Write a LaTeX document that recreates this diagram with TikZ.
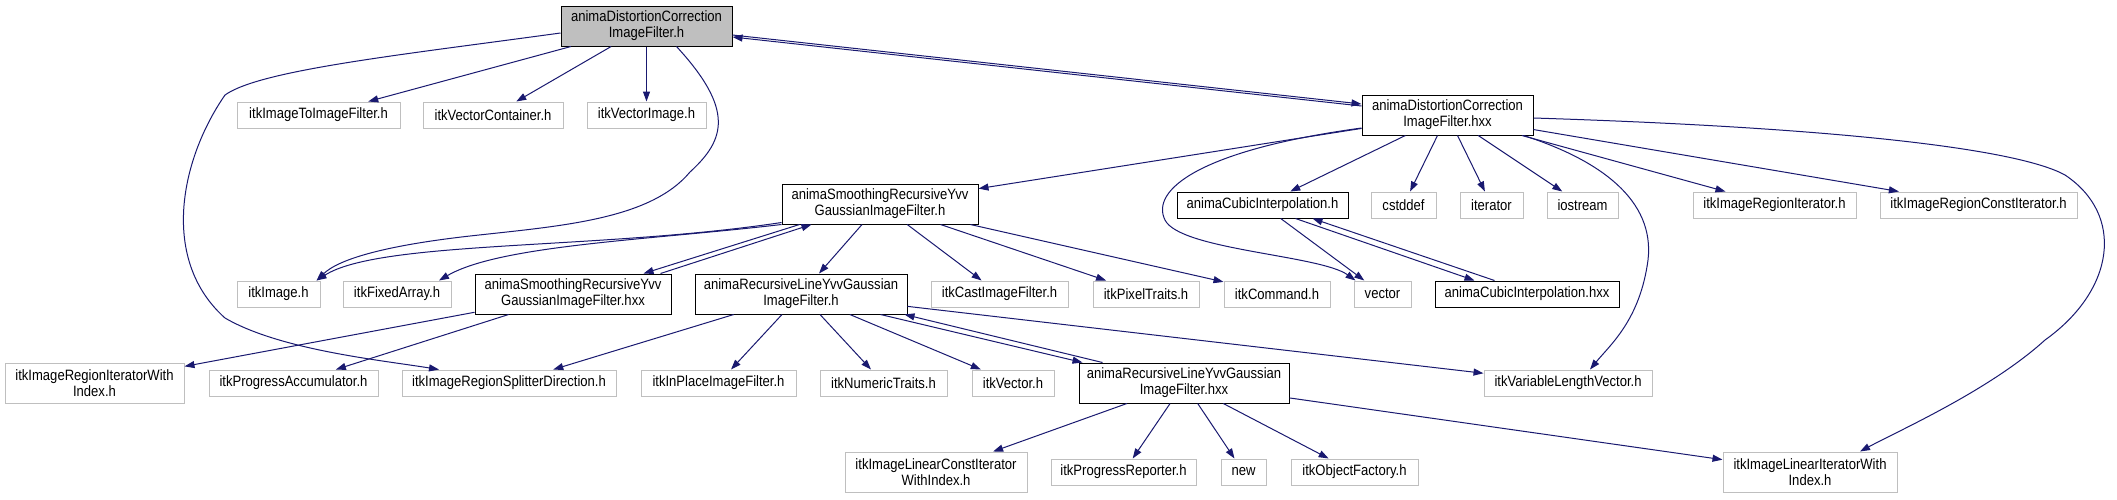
\documentclass[tikz,border=0pt]{standalone}
\usepackage{fontspec}
\setmainfont{Liberation Sans}[FakeStretch=0.87]
\usetikzlibrary{arrows.meta}
\definecolor{edgec}{HTML}{191970}
\definecolor{lgray}{HTML}{BFBFBF}
\definecolor{mgray}{HTML}{BFBFBF}
\begin{document}
\begin{tikzpicture}[x=1pt,y=-1pt,
  box/.style={draw=lgray, line width=1pt, inner sep=0pt, minimum height=26pt, align=center, font=\fontsize{15}{16}\selectfont},
  anima/.style={box, draw=black},
  two/.style={minimum height=40pt},
  mainbox/.style={anima, two, fill=mgray},
  edge/.style={edgec, line width=1pt, -{Triangle[length=10pt,width=7pt]}}]
\fill[white] (0,0) rectangle (2117,499);
\useasboundingbox (0,0) rectangle (2117,499);

\node[mainbox, minimum width=171pt] (A) at (646.5,26) {animaDistortionCorrection\\ImageFilter.h};
\node[box, minimum width=163pt] (n1) at (318.5,115) {itkImageToImageFilter.h};
\node[box, minimum width=140pt] (n2) at (493,115) {itkVectorContainer.h};
\node[box, minimum width=119pt] (n3) at (646.5,115) {itkVectorImage.h};
\node[anima, two, minimum width=171pt] (B) at (1447.5,115) {animaDistortionCorrection\\ImageFilter.hxx};
\node[anima, two, minimum width=196pt] (C) at (880,204) {animaSmoothingRecursiveYvv\\GaussianImageFilter.h};
\node[anima, minimum width=171pt] (F) at (1262.5,205) {animaCubicInterpolation.h};
\node[box, minimum width=65pt] (cstddef) at (1403.5,205) {cstddef};
\node[box, minimum width=63pt] (iterator) at (1491.5,205) {iterator};
\node[box, minimum width=71pt] (iostream) at (1582.5,205) {iostream};
\node[box, minimum width=163pt] (rit) at (1774.5,205) {itkImageRegionIterator.h};
\node[box, minimum width=197pt] (rcit) at (1978.5,205) {itkImageRegionConstIterator.h};
\node[box, minimum width=83pt] (img) at (278.5,294) {itkImage.h};
\node[box, minimum width=108pt] (fa) at (397,294) {itkFixedArray.h};
\node[anima, two, minimum width=196pt] (D) at (573,294) {animaSmoothingRecursiveYvv\\GaussianImageFilter.hxx};
\node[anima, two, minimum width=212pt] (E) at (801,294) {animaRecursiveLineYvvGaussian\\ImageFilter.h};
\node[box, minimum width=137pt] (cast) at (999.5,294) {itkCastImageFilter.h};
\node[box, minimum width=106pt] (pt) at (1146,294) {itkPixelTraits.h};
\node[box, minimum width=106pt] (cmd) at (1277,294) {itkCommand.h};
\node[box, minimum width=57pt] (vec) at (1382.5,294) {vector};
\node[anima, minimum width=184pt] (H) at (1527,294) {animaCubicInterpolation.hxx};
\node[box, two, minimum width=179pt] (riwi) at (94.5,383) {itkImageRegionIteratorWith\\Index.h};
\node[box, minimum width=169pt] (pa) at (293.5,383) {itkProgressAccumulator.h};
\node[box, minimum width=214pt] (rsd) at (509,383) {itkImageRegionSplitterDirection.h};
\node[box, minimum width=155pt] (ipf) at (718.5,383) {itkInPlaceImageFilter.h};
\node[box, minimum width=127pt] (nt) at (883.5,383) {itkNumericTraits.h};
\node[box, minimum width=82pt] (itkvec) at (1013,383) {itkVector.h};
\node[anima, two, minimum width=210pt] (G) at (1184,383) {animaRecursiveLineYvvGaussian\\ImageFilter.hxx};
\node[box, minimum width=168pt] (vlv) at (1568,383) {itkVariableLengthVector.h};
\node[box, two, minimum width=182pt] (lciwi) at (936,472) {itkImageLinearConstIterator\\WithIndex.h};
\node[box, minimum width=145pt] (pr) at (1123.5,472) {itkProgressReporter.h};
\node[box, minimum width=45pt] (nw) at (1243.5,472) {new};
\node[box, minimum width=127pt] (of) at (1354.5,472) {itkObjectFactory.h};
\node[box, two, minimum width=174pt] (liwi) at (1810,472) {itkImageLinearIteratorWith\\Index.h};

% from A
\draw[edge] (A) -- (n1);
\draw[edge] (A) -- (n2);
\draw[edge] (A) -- (n3);
\draw[edge] ([xshift=-56pt]A.south east) .. controls (735,110) and (725,140) .. (690,172) .. controls (650,220) and (560,226) .. (470,236) .. controls (390,245) and (340,258) .. ([xshift=-4pt]img.north east);
\draw[edge] ([yshift=-7pt]A.west) .. controls (400,55) and (260,70) .. (225,95) .. controls (180,160) and (160,260) .. (225,318) .. controls (280,350) and (380,360) .. ([xshift=-70pt]rsd.north);
\draw[edge] ([yshift=-9pt]A.east) -- ([yshift=11pt]B.west);
% from B
\draw[edge] ([yshift=9pt]B.west) -- ([yshift=-11pt]A.east);
\draw[edge] (B) -- (C);
\draw[edge] ([yshift=-13pt]B.west) .. controls (1200,150) and (1150,190) .. (1165,220) .. controls (1180,250) and (1320,255) .. ([xshift=2pt]vec.north west);
\draw[edge] (B) -- (F);
\draw[edge] (B) -- (cstddef);
\draw[edge] (B) -- (iterator);
\draw[edge] (B) -- (iostream);
\draw[edge] (B) -- (rit);
\draw[edge] (B) -- (rcit);
\draw[edge] ([xshift=-10pt]B.south east) .. controls (1600,160) and (1655,200) .. (1648,260) .. controls (1640,320) and (1610,345) .. ([xshift=22pt]vlv.north);
\draw[edge] ([yshift=-3pt]B.east) .. controls (1850,128) and (2020,150) .. (2065,175) .. controls (2125,215) and (2115,290) .. (2045,340) .. controls (1990,390) and (1900,430) .. ([xshift=50pt]liwi.north);
% from C
\draw[edge] ([yshift=2pt]C.south west) .. controls (600,250) and (380,240) .. ([xshift=-4pt]img.north east);
\draw[edge] (C.south west) .. controls (650,240) and (500,245) .. ([xshift=42pt]fa.north);
\draw[edge] ([xshift=18pt]C.south west) -- ([xshift=-28pt]D.north east);
\draw[edge] ([xshift=-11pt]D.north east) -- ([xshift=30pt]C.south west);
\draw[edge] (C) -- (E);
\draw[edge] (C) -- (cast);
\draw[edge] (C) -- (pt);
\draw[edge] (C) -- (cmd);
% from D
\draw[edge] (D) -- (riwi);
\draw[edge] (D) -- (pa);
% from E
\draw[edge] (E) -- (rsd);
\draw[edge] (E) -- (ipf);
\draw[edge] (E) -- (nt);
\draw[edge] (E) -- (itkvec);
\draw[edge] ([xshift=-27pt]E.south east) -- ([xshift=4pt]G.north west);
\draw[edge] ([xshift=24pt]G.north west) -- ([xshift=-3pt]E.south east);
\draw[edge] (E) -- (vlv);
% from F
\draw[edge] (F) -- (vec);
\draw[edge] ([xshift=-53pt]F.south east) -- ([xshift=40pt]H.north west);
\draw[edge] ([xshift=60pt]H.north west) -- ([xshift=-36pt]F.south east);
% from G
\draw[edge] (G) -- (lciwi);
\draw[edge] (G) -- (pr);
\draw[edge] (G) -- (nw);
\draw[edge] (G) -- (of);
\draw[edge] (G) -- (liwi);
\end{tikzpicture}
\end{document}
